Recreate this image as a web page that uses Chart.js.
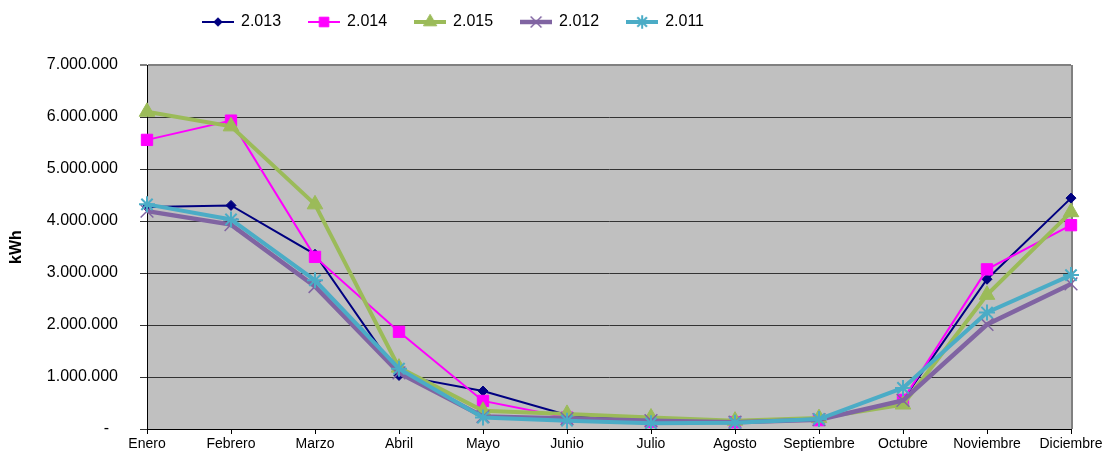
<!DOCTYPE html>
<html>
<head>
<meta charset="utf-8">
<title>Consumo mensual kWh</title>
<script src="https://cdn.jsdelivr.net/npm/chart.js@4.4.1/dist/chart.umd.min.js"></script>
<style>
  html, body { margin: 0; padding: 0; background: #fff; overflow: hidden; }
  canvas { display: block; }
</style>
</head>
<body>
<canvas id="consumo" width="1113" height="454"></canvas>
<script>
// consumo mensual por año (kWh)
const meses = ['Enero', 'Febrero', 'Marzo', 'Abril', 'Mayo', 'Junio', 'Julio', 'Agosto', 'Septiembre', 'Octubre', 'Noviembre', 'Diciembre']

const kwh2013 = [4270000, 4300000, 3360000, 1030000, 730000, 270000, 160000, 130000, 170000, 560000, 2880000, 4440000]
const kwh2014 = [5560000, 5930000, 3310000, 1870000, 540000, 220000, 140000, 130000, 170000, 560000, 3070000, 3920000]
const kwh2015 = [6100000, 5820000, 4320000, 1180000, 350000, 290000, 220000, 160000, 210000, 470000, 2580000, 4170000]
const kwh2012 = [4190000, 3930000, 2740000, 1080000, 240000, 200000, 160000, 130000, 180000, 550000, 2010000, 2790000]
const kwh2011 = [4320000, 4030000, 2860000, 1160000, 220000, 160000, 110000, 120000, 190000, 790000, 2240000, 2960000]

const etiquetas = ['2.013', '2.014', '2.015', '2.012', '2.011']
const yMax = 7000000
const yPaso = 1000000

// estilo de cada serie, en el mismo orden que las etiquetas
const estilos = [
    { color: '#000080', grosor: 2, punto: 'rectRot', radio: 5, borde: 1, orden: 5 },
    { color: '#ff00ff', grosor: 2, punto: 'rect', radio: 8, borde: 1, orden: 4 },
    { color: '#9bbb59', grosor: 4, punto: 'triangle', radio: 9, borde: 1, orden: 3 },
    { color: '#8064a2', grosor: 4.5, punto: 'crossRot', radio: 9, borde: 1.5, orden: 2 },
    { color: '#4bacc6', grosor: 4, punto: 'star', radio: 8, borde: 2, orden: 1 }
]
const valores = [kwh2013, kwh2014, kwh2015, kwh2012, kwh2011]

function miles(v) {
    if (v === 0) return '-  '
    return String(v).replace(/\B(?=(\d{3})+(?!\d))/g, '.')
}

// icono de leyenda: línea con el marcador en el centro
function iconoLeyenda(e) {
    const c = document.createElement('canvas')
    c.width = 32
    c.height = 20
    const g = c.getContext('2d')
    g.strokeStyle = e.color
    g.lineWidth = e.grosor
    g.beginPath()
    g.moveTo(0, 10)
    g.lineTo(32, 10)
    g.stroke()
    g.fillStyle = e.color
    g.lineWidth = e.borde
    Chart.helpers.drawPoint(g, { pointStyle: e.punto, radius: e.radio * 0.85, rotation: 0, borderWidth: e.borde }, 16, 10)
    return c
}

const datasets = valores.map((data, i) => {
    const e = estilos[i]
    return {
        label: etiquetas[i],
        data: data,
        borderColor: e.color,
        backgroundColor: e.color,
        borderWidth: e.grosor,
        pointStyle: e.punto,
        pointRadius: e.radio,
        pointBorderWidth: e.borde,
        pointBorderColor: e.color,
        pointBackgroundColor: e.color,
        tension: 0,
        order: e.orden
    }
})
const iconos = estilos.map(iconoLeyenda)

// fondo gris del área de trazado, marco derecho y posición de la leyenda
const marcoGrafico = {
    id: 'marcoGrafico',
    beforeLayout(chart) {
        const lg = chart.legend
        if (lg && !lg.alturaFija) {
            const fit = lg.fit
            lg.fit = function () {
                fit.call(this)
                this.height = 79
            }
            lg.alturaFija = true
        }
    },
    afterLayout(chart) {
        chart.legend.left = 175
    },
    beforeDraw(chart) {
        const { ctx, chartArea: a } = chart
        ctx.save()
        ctx.fillStyle = '#c0c0c0'
        ctx.fillRect(a.left, a.top, a.right - a.left, a.bottom - a.top)
        ctx.restore()
    },
    beforeDatasetsDraw(chart) {
        const { ctx, chartArea: a } = chart
        ctx.save()
        ctx.strokeStyle = '#808080'
        ctx.lineWidth = 2
        ctx.beginPath()
        ctx.moveTo(a.right + 1, a.top)
        ctx.lineTo(a.right + 1, a.bottom)
        ctx.stroke()
        ctx.restore()
    }
}

Chart.defaults.font.family = "'Liberation Sans', Arial, sans-serif"
Chart.defaults.color = '#000'

const ctx = document.getElementById('consumo').getContext('2d')
const grafico = new Chart(ctx, {
    type: 'line',
    data: {
        labels: meses,
        datasets: datasets
    },
    plugins: [marcoGrafico],
    options: {
        responsive: false,
        animation: false,
        devicePixelRatio: 1,
        layout: {
            padding: { top: -14, left: 0, right: 42, bottom: 0 }
        },
        plugins: {
            tooltip: { enabled: false },
            legend: {
                position: 'top',
                align: 'start',
                labels: {
                    usePointStyle: true,
                    pointStyleWidth: 30,
                    padding: 28,
                    font: { size: 16 },
                    color: '#000',
                    generateLabels: chart => chart.data.datasets.map((ds, i) => ({
                        text: ds.label,
                        pointStyle: iconos[i],
                        fillStyle: ds.borderColor,
                        strokeStyle: ds.borderColor,
                        lineWidth: 0,
                        hidden: false,
                        datasetIndex: i,
                        fontColor: '#000'
                    }))
                }
            }
        },
        scales: {
            x: {
                offset: false,
                afterFit: s => { s.height = 25 },
                grid: {
                    drawOnChartArea: false,
                    tickLength: 5,
                    color: '#000'
                },
                border: { color: '#000', width: 1 },
                ticks: {
                    autoSkip: false,
                    maxRotation: 0,
                    padding: 2,
                    font: { size: 14 }
                }
            },
            y: {
                min: 0,
                max: yMax,
                // el padding de las etiquetas no debe empujar el eje X hacia arriba
                afterFit: s => {
                    s.width = 147
                    s.paddingBottom = 0
                },
                grid: {
                    tickLength: 7,
                    color: c => c.tick && c.tick.value === yMax ? '#808080' : '#333',
                    lineWidth: c => c.tick && c.tick.value === yMax ? 2 : 1
                },
                border: { color: '#000', width: 1 },
                ticks: {
                    stepSize: yPaso,
                    padding: 22,
                    font: { size: 16 },
                    callback: v => miles(v)
                },
                title: {
                    display: true,
                    text: 'kWh',
                    font: { size: 16, weight: 'bold' },
                    padding: { top: 7, bottom: 0 }
                }
            }
        }
    }
})
</script>
</body>
</html>
